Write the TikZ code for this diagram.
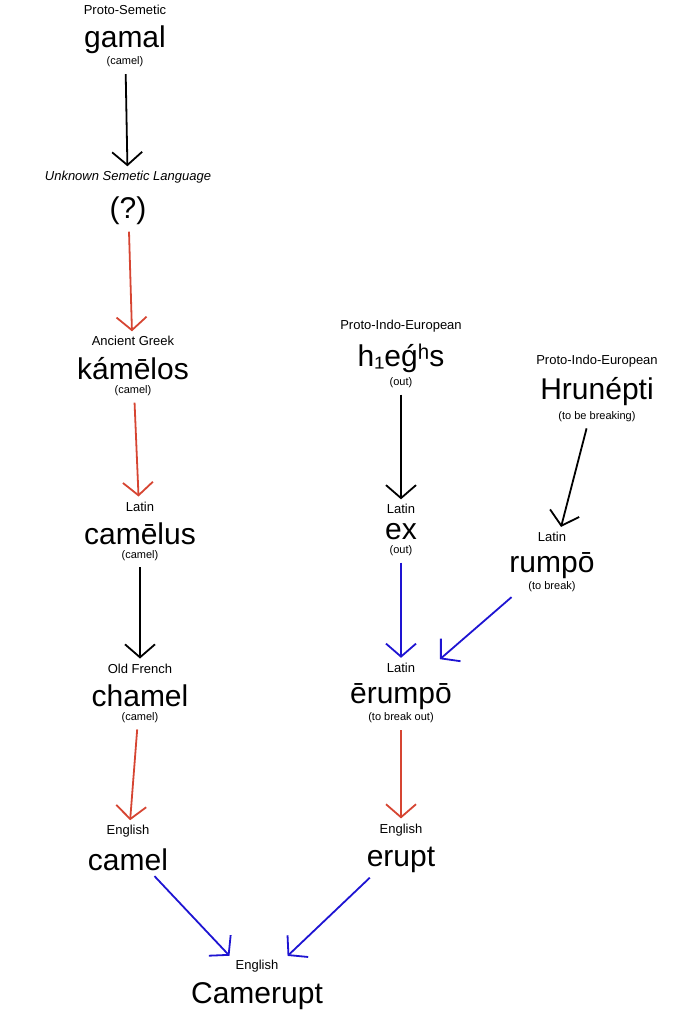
\documentclass[tikz,border=0pt]{standalone}
\usepackage{fontspec}
\setmainfont{Liberation Sans}
\usetikzlibrary{arrows.meta}
\newcommand{\lng}[1]{{\fontsize{13}{15}\selectfont #1}}
\newcommand{\wrd}[1]{{\fontsize{30}{29}\selectfont #1}}
\newcommand{\gls}[1]{{\fontsize{11}{17}\selectfont #1}}
\tikzset{
  word/.style={align=center, inner sep=1pt},
  etym/.style={-{Straight Barb[length=13pt,width=30pt,line width=1.8pt]}, line width=1.8pt, shorten <=6pt, shorten >=4pt},
  redarr/.style={etym, draw={rgb,255:red,214;green,69;blue,50}},
  bluarr/.style={etym, draw={rgb,255:red,30;green,20;blue,210}},
}
\begin{document}
\begin{tikzpicture}[x=1pt,y=-1pt]
\useasboundingbox (0,0) rectangle (688,1024);
% left column
\node[word] (gamal) at (125,36) {\lng{Proto-Semetic}\\[10pt]\wrd{gamal}\\[2pt]\gls{(camel)}};
\node[word] (unk) at (128,198) {\lng{\itshape Unknown Semetic Language}\\[12pt]\wrd{(?)}};
\node[word] (kamelos) at (133,366) {\lng{Ancient Greek}\\[10pt]\wrd{kámēlos}\\[2pt]\gls{(camel)}};
\node[word] (camelus) at (140,531) {\lng{Latin}\\[10pt]\wrd{camēlus}\\[2pt]\gls{(camel)}};
\node[word] (chamel) at (140,693) {\lng{Old French}\\[10pt]\wrd{chamel}\\[2pt]\gls{(camel)}};
\node[word] (camel) at (128,848) {\lng{English}\\[10pt]\wrd{camel}};
% right columns
\node[word] (heghs) at (401,354) {\lng{Proto-Indo-European}\\[10pt]\wrd{h₁eǵʰs}\\[4pt]\gls{(out)}};
\node[word] (hrun) at (597,388) {\lng{Proto-Indo-European}\\[10pt]\wrd{Hrunépti}\\[4pt]\gls{(to be breaking)}};
\node[word] (ex) at (401,530) {\lng{Latin}\\[8pt]\wrd{ex}\\[2pt]\gls{(out)}};
\node[word] (rumpo) at (552,562) {\lng{Latin}\\[10pt]\wrd{rumpō}\\[2pt]\gls{(to break)}};
\node[word] (erumpo) at (401,693) {\lng{Latin}\\[10pt]\wrd{ērumpō}\\[2pt]\gls{(to break out)}};
\node[word] (erupt) at (401,848) {\lng{English}\\[10pt]\wrd{erupt}};
\node[word] (camerupt) at (257,985) {\lng{English}\\[10pt]\wrd{Camerupt}};
% arrows
\draw[etym] (gamal) -- (unk);
\draw[redarr] (unk) -- (kamelos);
\draw[redarr] (kamelos) -- (camelus);
\draw[etym] (camelus) -- (chamel);
\draw[redarr] (chamel) -- (camel);
\draw[bluarr] (camel) -- (camerupt);
\draw[etym] (heghs) -- (ex);
\draw[etym] (hrun) -- (rumpo);
\draw[bluarr] (ex) -- (erumpo);
\draw[bluarr] (rumpo) -- (erumpo);
\draw[redarr] (erumpo) -- (erupt);
\draw[bluarr] (erupt) -- (camerupt);
\end{tikzpicture}
\end{document}
